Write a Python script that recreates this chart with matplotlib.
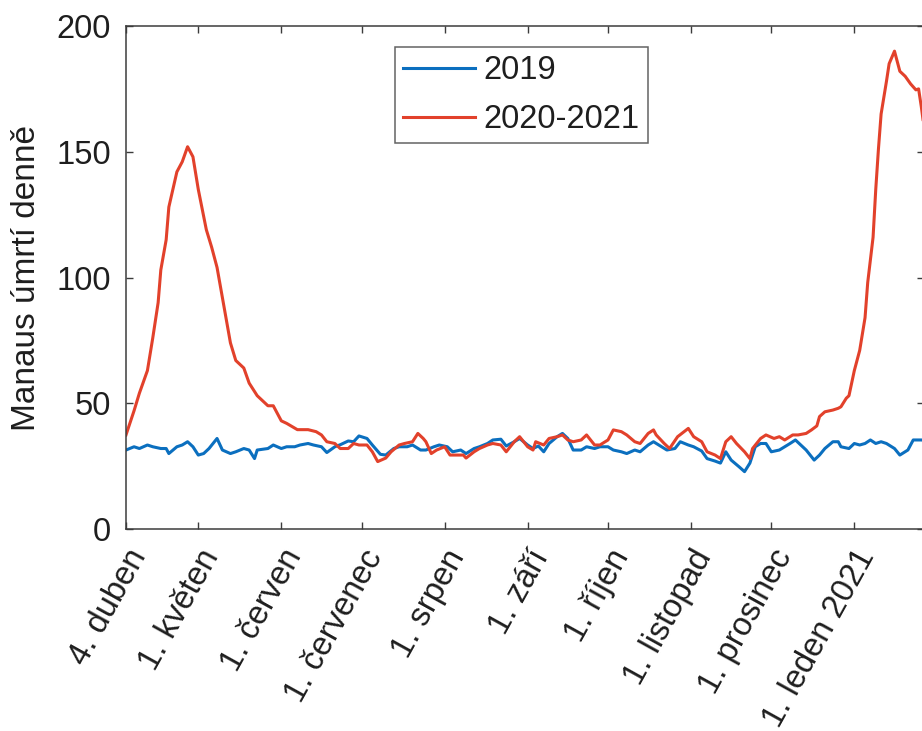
import numpy as np
import matplotlib
matplotlib.use("Agg")
import matplotlib.pyplot as plt
import matplotlib.transforms as mtransforms

plt.rcParams['font.family'] = ['Liberation Sans', 'DejaVu Sans']

start = np.datetime64('2020-04-04')

# daily deaths, 2020-2021 wave (day offset from 4 April, value)
red_days = [0, 3, 5, 8, 10, 12, 13, 15, 16, 19, 21, 23, 25, 27, 30, 32, 34, 36, 39, 41,
            44, 46, 49, 53, 55, 58, 60, 64, 68, 71, 73, 75, 78, 80, 83, 85, 87, 90, 92, 94,
            97, 99, 102, 104, 107, 109, 111, 112, 114, 116, 119, 121, 124, 126, 127, 130, 132, 135, 137, 140,
            142, 145, 147, 150, 152, 153, 156, 158, 161, 163, 165, 167, 170, 172, 175, 177, 180, 182, 185, 187,
            190, 192, 195, 197, 198, 201, 203, 206, 210, 212, 215, 217, 220, 222, 224, 226, 228, 231, 233, 234,
            237, 239, 242, 244, 246, 249, 251, 254, 256, 258, 259, 261, 264, 266, 267, 269, 270, 272, 274, 276,
            277, 279, 280, 281, 282, 284, 285, 287, 289, 291, 293, 295, 296, 297, 298]
red_vals = [37.4, 47, 54, 63, 76, 90, 103, 115, 128, 142, 146, 152, 148, 135, 119, 112, 104, 92, 74, 67,
            64, 58, 53, 49, 49, 43, 42, 39.5, 39.5, 38.7, 37.4, 34.7, 34, 32, 32, 34, 33.4, 33.4, 30.7, 26.8,
            28.2, 30.7, 33.4, 34, 34.7, 38, 36, 34.7, 30, 31.4, 32.7, 29.4, 29.4, 29.4, 28.2, 30.7, 32, 33.4, 34, 33.4,
            30.7, 34.7, 36.7, 32.7, 31.4, 34.7, 33.4, 36, 36.7, 37.4, 35.4, 34.7, 35.4, 37.4, 33.4, 33.4, 35.4, 39.4, 38.7, 37.4,
            34.7, 34, 38, 39.4, 37.4, 34, 32, 36.7, 40, 36.7, 34.7, 30.7, 29.4, 28, 34.7, 36.7, 34, 30.7, 28, 32,
            36, 37.4, 36, 36.7, 35.4, 37.4, 37.4, 38, 39.4, 41, 44.7, 46.6, 47.3, 48, 48.6, 52, 53, 63, 71, 84,
            98, 116, 135, 151, 165, 178, 185, 190, 182, 180, 177, 174.6, 175, 168, 160]

# daily deaths, same dates in 2019
blue_days = [0, 3, 5, 8, 10, 13, 15, 16, 19, 21, 23, 25, 27, 29, 31, 34, 36, 39, 41, 44,
             46, 48, 49, 53, 55, 58, 60, 63, 65, 68, 70, 73, 75, 78, 80, 83, 85, 87, 90, 92,
             95, 97, 100, 102, 105, 107, 110, 112, 115, 117, 120, 122, 125, 127, 130, 132, 135, 137, 140, 142,
             145, 147, 150, 152, 154, 156, 158, 161, 163, 165, 167, 170, 172, 175, 177, 180, 182, 185, 187, 190,
             192, 195, 197, 200, 202, 205, 207, 210, 212, 215, 217, 220, 222, 224, 226, 229, 231, 233, 235, 237,
             239, 241, 244, 246, 248, 250, 252, 254, 257, 259, 261, 264, 266, 267, 270, 272, 274, 276, 278, 280,
             282, 284, 287, 289, 292, 294, 297, 300]
blue_vals = [31.4, 32.7, 32, 33.4, 32.7, 32, 32, 30, 32.7, 33.4, 34.7, 32.7, 29.4, 30, 32, 36, 31.4, 30, 30.7, 32,
             31.4, 28, 31.4, 32, 33.4, 32, 32.7, 32.7, 33.4, 34, 33.4, 32.7, 30.4, 32.7, 33.5, 35, 34.7, 37, 36, 33.4,
             29.7, 29.4, 32, 32.7, 32.7, 33.4, 31.4, 31.4, 32.7, 33.4, 32.7, 30.7, 31.4, 30, 32, 32.7, 34, 35.4, 35.7, 33,
             34.7, 36, 33.4, 32, 33, 30.7, 34, 36.7, 38, 36, 31.4, 31.4, 32.7, 32, 32.7, 32.7, 31.4, 30.7, 30, 31.4,
             30.7, 33.4, 34.7, 32.7, 31.4, 32, 34.7, 33.4, 32.7, 31, 28, 27, 26.2, 30.7, 27.4, 24.7, 22.8, 26.2, 32.7, 34,
             34, 30.7, 31.4, 32.7, 34, 35.4, 33.4, 31.4, 27.4, 29.4, 32, 34.7, 34.7, 32.7, 32, 34, 33.4, 34, 35.4, 34,
             34.7, 34, 32, 29.4, 31.4, 35.4, 35.4, 35]

tick_dates = ['2020-04-04', '2020-05-01', '2020-06-01', '2020-07-01', '2020-08-01',
              '2020-09-01', '2020-10-01', '2020-11-01', '2020-12-01', '2021-01-01']
tick_labels = ['4. duben', '1. květen', '1. červen', '1. červenec', '1. srpen',
               '1. září', '1. říjen', '1. listopad', '1. prosinec', '1. leden 2021']

red_x = start + np.array(red_days, dtype='timedelta64[D]')
blue_x = start + np.array(blue_days, dtype='timedelta64[D]')

fig = plt.figure(figsize=(9.22, 7.31), dpi=100)
ax = fig.add_axes([126 / 922, 1 - 529 / 731, 797.5 / 922, 503 / 731])

ax.plot(blue_x, blue_vals, color='#0b6fbf', lw=2.2, label='2019')
ax.plot(red_x, red_vals, color='#e2412b', lw=2.2, label='2020-2021')

ax.set_xlim(start, start + np.timedelta64(298, 'D') - np.timedelta64(4, 'h'))
ax.set_ylim(0, 200)
ax.set_yticks([0, 50, 100, 150, 200])

ticks = np.array(tick_dates, dtype='datetime64[D]')
ax.set_xticks(ticks)
ax.set_xticklabels(tick_labels, rotation=61, ha='right', va='top',
                   rotation_mode='anchor')
shift = mtransforms.ScaledTranslation(0.35, 0, fig.dpi_scale_trans)
for lab in ax.get_xticklabels():
    lab.set_transform(lab.get_transform() + shift)

for sp in ax.spines.values():
    sp.set_color('#3c3c3c')
    sp.set_linewidth(1.1)

ax.tick_params(axis='both', direction='in', length=5, width=1, color='#3c3c3c',
               labelsize=23.5, labelcolor='#1e1e1e', top=True, right=True)
ax.tick_params(axis='y', pad=11)
ax.tick_params(axis='x', pad=11)

ax.set_ylabel('Manaus úmrtí denně', fontsize=24, color='#1e1e1e', labelpad=10)

leg = ax.legend(loc='upper left', bbox_to_anchor=(0.3375, 0.958), fontsize=23.5,
                frameon=True, fancybox=False, handlelength=2.2, handletextpad=0.25,
                borderpad=0.25, labelspacing=0.55, borderaxespad=0)
leg.get_frame().set_edgecolor('#3c3c3c')
leg.get_frame().set_linewidth(1.1)
for t in leg.get_texts():
    t.set_color('#1e1e1e')

fig.savefig('out.png', dpi=100)
